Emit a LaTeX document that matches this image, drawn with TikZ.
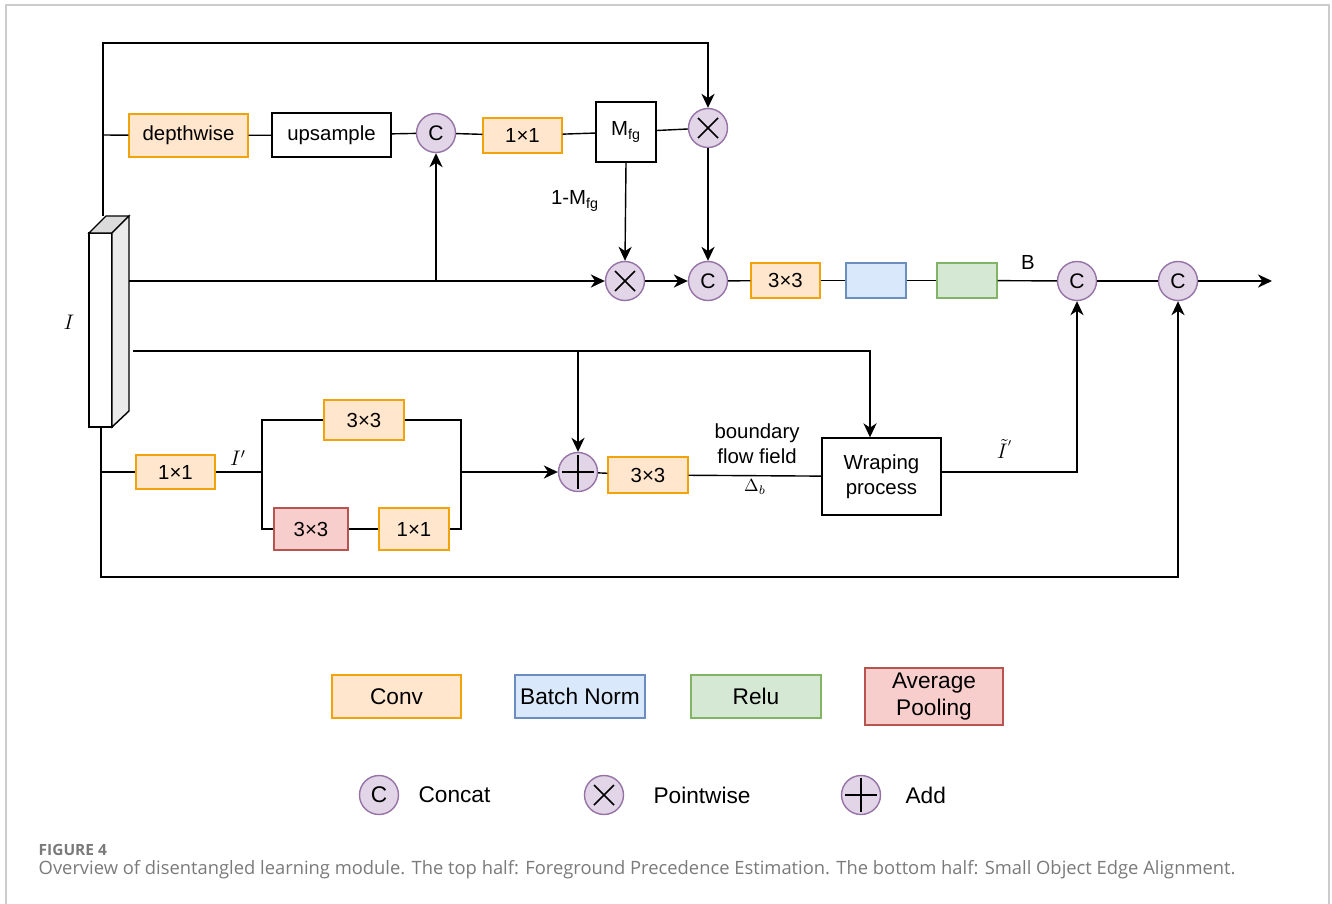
\documentclass[tikz,border=0pt]{standalone}
\usepackage{fontspec}
\setmainfont{Liberation Sans}
\newfontfamily\capfont{Open Sans}
\usetikzlibrary{arrows.meta}

\definecolor{convfill}{HTML}{FFE6CC}
\definecolor{convline}{HTML}{F0A30A}
\definecolor{bnfill}{HTML}{DAE8FC}
\definecolor{bnline}{HTML}{6C8EBF}
\definecolor{relufill}{HTML}{D5E8D4}
\definecolor{reluline}{HTML}{82B366}
\definecolor{poolfill}{HTML}{F8CECC}
\definecolor{poolline}{HTML}{B85450}
\definecolor{opfill}{HTML}{E1D5E7}
\definecolor{opline}{HTML}{9673A6}
\definecolor{capgray}{HTML}{7A7A7A}

\tikzset{
  box/.style={draw, line width=0.8pt, inner sep=1pt, align=center,
    font=\fontsize{11.6}{14}\selectfont},
  conv/.style={box, fill=convfill, draw=convline},
  bn/.style={box, fill=bnfill, draw=bnline},
  relu/.style={box, fill=relufill, draw=reluline},
  pool/.style={box, fill=poolfill, draw=poolline},
  op/.style={circle, draw=opline, fill=opfill, line width=0.8pt,
    minimum size=0.78cm, inner sep=0pt, font=\fontsize{12}{14}\selectfont},
  mul/.style={op, path picture={
    \draw[black, line width=0.9pt]
      ([shift={(-0.2cm,-0.2cm)}]path picture bounding box.center) --
      ([shift={(0.2cm,0.2cm)}]path picture bounding box.center)
      ([shift={(-0.2cm,0.2cm)}]path picture bounding box.center) --
      ([shift={(0.2cm,-0.2cm)}]path picture bounding box.center);}},
  add/.style={op, path picture={
    \draw[black, line width=0.9pt]
      ([xshift=-0.32cm]path picture bounding box.center) --
      ([xshift=0.32cm]path picture bounding box.center)
      ([yshift=-0.34cm]path picture bounding box.center) --
      ([yshift=0.34cm]path picture bounding box.center);}},
  lbl/.style={font=\fontsize{11.6}{14}\selectfont, align=center},
  var/.style={font=\fontsize{12}{14}\selectfont},
  leg/.style={font=\fontsize{12.9}{15}\selectfont},
  arr/.style={-{Stealth[length=8pt,width=7.5pt,inset=2.5pt]}},
}

\begin{document}
\begin{tikzpicture}[x=0.02cm, y=-0.02cm, line width=0.8pt]
\useasboundingbox (0,0) rectangle (1332,903);
\draw[gray!40] (6,920) -- (6,5) -- (1329,5) -- (1329,920);

% input feature slab
\draw[fill=white] (89,233) rectangle (112,427);
\draw[fill=gray!28] (89,233) -- (106,216) -- (129,216) -- (112,233) -- cycle;
\draw[fill=gray!16] (112,233) -- (129,216) -- (129,411) -- (112,427) -- cycle;
\node[var] at (69,322) {$I$};

\coordinate (slabTop) at (103,216);
\coordinate (slabBot) at (101,427);
\coordinate (l1) at (129,281);
\coordinate (l2) at (133,351);

% top half
\node[conv, minimum width=2.38cm, minimum height=0.86cm] (dw) at (188.5,135.5) {depthwise};
\node[box, minimum width=2.38cm, minimum height=0.88cm] (up) at (331.5,135) {upsample};
\node[op] (cat1) at (436,133) {C};
\node[conv, minimum width=1.58cm, minimum height=0.7cm] (t1x1) at (522.5,135.5) {1×1};
\node[box, minimum width=1.2cm, minimum height=1.2cm] (mfg) at (626,132) {M\textsubscript{fg}};
\node[mul] (mulT) at (708,128) {};
\node[mul] (mulB) at (625,281) {};
\node[op] (cat2) at (708,281) {C};
\node[conv, minimum width=1.38cm, minimum height=0.7cm] (c33) at (785.5,280.5) {3×3};
\node[bn, minimum width=1.2cm, minimum height=0.7cm] (bnb) at (876,280.5) {};
\node[relu, minimum width=1.2cm, minimum height=0.7cm] (rl) at (967,280.5) {};
\node[op] (cat3) at (1077,281) {C};
\node[op] (cat4) at (1178,281) {C};
\coordinate (out) at (1272,281);

\node[lbl] at (575,201) {1-M\textsubscript{fg}};
\node[lbl] at (1028,262) {B};

\coordinate (topC) at (103,43);
\coordinate (brD) at (103,135);
\draw[arr] (slabTop) -- (topC) -| (mulT.north);
\draw (brD) -- (dw);
\draw (dw) -- (up);
\draw (up) -- (cat1);
\draw (cat1) -- (t1x1);
\draw (t1x1) -- (mfg);
\draw (mfg) -- (mulT);
\draw[arr] (mfg.south) -- (mulB.north);
\draw[arr] (mulT) -- (cat2);
\draw[arr] (l1) -- (mulB);
\draw[arr] (l1 -| cat1) -- (cat1);
\draw[arr] (mulB) -- (cat2);
\draw (cat2) -- (c33);
\draw (c33) -- (bnb);
\draw (bnb) -- (rl);
\draw (rl) -- (cat3);
\draw (cat3) -- (cat4);
\draw[arr] (cat4) -- (out);

% bottom half
\node[conv, minimum width=1.58cm, minimum height=0.68cm] (b1x1) at (175.5,472) {1×1};
\node[conv, minimum width=1.6cm, minimum height=0.8cm] (u3x3) at (364,420) {3×3};
\node[pool, minimum width=1.48cm, minimum height=0.84cm] (p3x3) at (311,529) {3×3};
\node[conv, minimum width=1.4cm, minimum height=0.84cm] (p1x1) at (414,529) {1×1};
\node[add] (sum) at (578,472) {};
\node[conv, minimum width=1.6cm, minimum height=0.72cm] (a3x3) at (648,475) {3×3};
\node[box, minimum width=2.38cm, minimum height=1.54cm] (warp) at (881.5,476.5) {Wraping\\process};

\node[var] at (238,458) {$I'$};
\node[lbl] at (757,444) {boundary\\flow field};
\node at (755,487) {$\Delta_b$};
\node[var] at (1005,449) {$\tilde{I}^{'}$};

\coordinate (brB) at (101,472);
\coordinate (sp) at (262,472);
\coordinate (jn) at (461,472);
\coordinate (wIn) at (870,351);
\coordinate (wOut) at (941,472);
\coordinate (botL) at (101,577);
\draw (brB) -- (b1x1);
\draw (b1x1) -- (sp);
\draw (sp) |- (u3x3);
\draw (sp) |- (p3x3);
\draw (p3x3) -- (p1x1);
\draw (u3x3) -| (jn);
\draw (p1x1) -| (jn);
\draw[arr] (jn) -- (sum);
\draw (sum) -- (a3x3);
\draw (a3x3) -- (warp);
\draw[arr] (l2) -- (wIn) -- (wIn |- warp.north);
\draw[arr] (l2 -| sum) -- (sum.north);
\draw[arr] (wOut) -| (cat3.south);
\draw[arr] (slabBot) -- (botL) -| (cat4.south);

% legend
\node[conv, leg, minimum width=2.58cm, minimum height=0.86cm] (lgConv) at (396.5,696.5) {Conv};
\node[bn, leg, minimum width=2.6cm, minimum height=0.86cm] (lgBn) at (580,696.5) {Batch Norm};
\node[relu, leg, minimum width=2.6cm, minimum height=0.86cm] (lgRelu) at (756,696.5) {Relu};
\node[pool, leg, minimum width=2.76cm, minimum height=1.14cm] (lgPool) at (934,696.5) {Average\\Pooling};

\node[op, font=\fontsize{12.9}{15}\selectfont] (lgCat) at (379,795) {C};
\node[leg, anchor=west] at (412,795) {Concat};
\node[mul] (lgMul) at (604,795) {};
\node[leg, anchor=west] at (647,795) {Pointwise};
\node[add] (lgAdd) at (861,795) {};
\node[leg, anchor=west] at (899,795) {Add};

% caption
\node[anchor=base west, inner sep=0pt, text=capgray, font=\capfont\bfseries\fontsize{8.8}{10}\selectfont] at (38,855) {FIGURE 4};
\node[anchor=base west, inner sep=0pt, text=capgray, font=\capfont\fontsize{10.45}{12}\selectfont] at (38,874)
  {Overview of disentangled learning module. The top half: Foreground Precedence Estimation. The bottom half: Small Object Edge Alignment.};
\end{tikzpicture}
\end{document}
